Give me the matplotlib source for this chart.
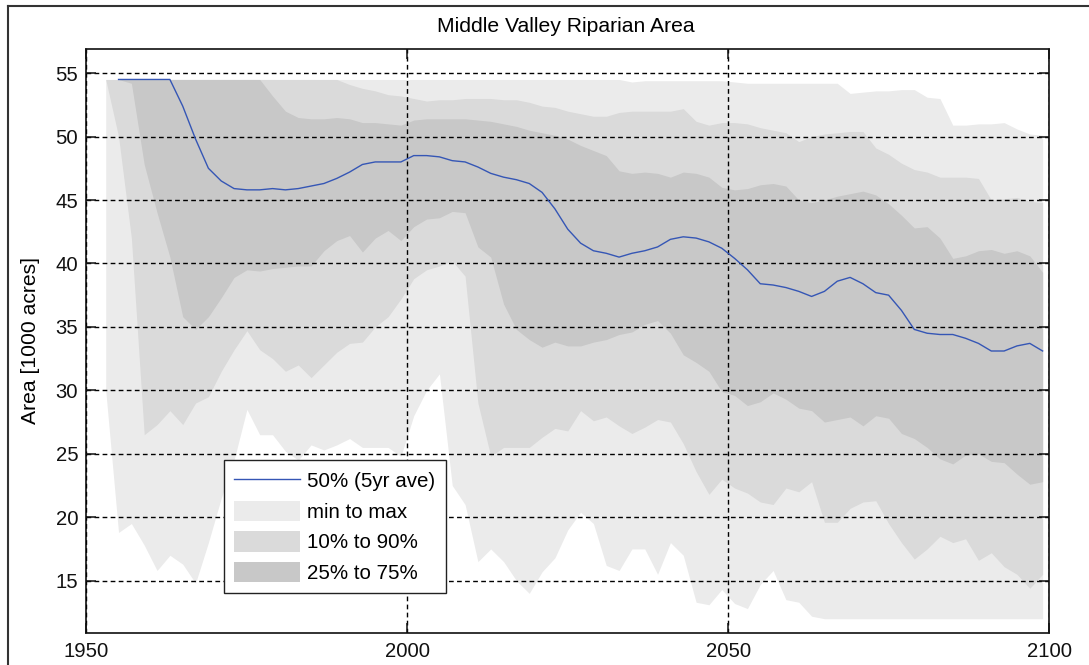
import matplotlib
matplotlib.use('Agg')
import matplotlib.pyplot as plt
from matplotlib.lines import Line2D
from matplotlib.patches import Patch
import numpy as np

# ── data (2-year steps) ─────────────────────────────────────
years = [1953, 1955, 1957, 1959, 1961, 1963, 1965, 1967, 1969, 1971,
         1973, 1975, 1977, 1979, 1981, 1983, 1985, 1987, 1989, 1991,
         1993, 1995, 1997, 1999, 2001, 2003, 2005, 2007, 2009, 2011,
         2013, 2015, 2017, 2019, 2021, 2023, 2025, 2027, 2029, 2031,
         2033, 2035, 2037, 2039, 2041, 2043, 2045, 2047, 2049, 2051,
         2053, 2055, 2057, 2059, 2061, 2063, 2065, 2067, 2069, 2071,
         2073, 2075, 2077, 2079, 2081, 2083, 2085, 2087, 2089, 2091,
         2093, 2095, 2097, 2099]

area_max = [54.5, 54.5, 54.5, 54.5, 54.5, 54.5, 54.5, 54.5, 54.5, 54.5,
            54.5, 54.5, 54.5, 54.5, 54.5, 54.5, 54.5, 54.5, 54.5, 54.5,
            54.5, 54.5, 54.5, 54.5, 54.5, 54.5, 54.5, 54.5, 54.5, 54.5,
            54.5, 54.5, 54.5, 54.5, 54.5, 54.5, 54.5, 54.5, 54.5, 54.5,
            54.5, 54.3, 54.4, 54.4, 54.4, 54.4, 54.4, 54.4, 54.4, 54.3,
            54.2, 54.2, 54.2, 54.2, 54.2, 54.2, 54.2, 54.2, 53.4, 53.5,
            53.6, 53.6, 53.7, 53.7, 53.1, 53.0, 50.9, 50.9, 51.0, 51.0,
            51.1, 50.6, 50.2, 50.1]

p90 = [54.5, 54.5, 54.5, 54.5, 54.5, 54.5, 54.5, 54.5, 54.5, 54.5,
       54.5, 54.5, 54.5, 54.5, 54.5, 54.5, 54.5, 54.5, 54.5, 54.1,
       53.8, 53.6, 53.3, 53.2, 53.0, 52.8, 52.9, 52.9, 53.0, 53.0,
       53.0, 52.9, 52.9, 52.7, 52.4, 52.3, 52.0, 51.8, 51.6, 51.6,
       51.9, 52.0, 52.0, 52.0, 52.0, 52.2, 51.2, 50.9, 51.1, 51.1,
       51.0, 50.7, 50.5, 50.3, 49.6, 50.0, 50.2, 50.3, 50.4, 50.4,
       49.1, 48.6, 47.9, 47.4, 47.2, 46.8, 46.8, 46.8, 46.7, 45.0,
       45.1, 45.2, 44.9, 44.8]

p75 = [54.5, 54.5, 54.5, 54.5, 54.5, 54.5, 54.5, 54.5, 54.5, 54.5,
       54.5, 54.5, 54.5, 53.2, 52.0, 51.5, 51.4, 51.4, 51.5, 51.4,
       51.1, 51.1, 51.0, 50.9, 51.3, 51.4, 51.4, 51.4, 51.4, 51.3,
       51.2, 51.0, 50.8, 50.5, 50.3, 50.1, 49.8, 49.3, 48.9, 48.5,
       47.3, 47.1, 47.2, 47.1, 46.8, 47.2, 47.1, 46.8, 46.0, 45.8,
       45.9, 46.2, 46.3, 46.1, 45.0, 44.8, 45.0, 45.3, 45.5, 45.7,
       45.4, 44.7, 43.8, 42.8, 42.9, 42.0, 40.4, 40.6, 41.0, 41.1,
       40.8, 41.0, 40.6, 39.3]

median_5yr = [np.nan, 54.5, 54.5, 54.5, 54.5, 54.5, 52.4, 49.8, 47.5, 46.5,
              45.9, 45.8, 45.8, 45.9, 45.8, 45.9, 46.1, 46.3, 46.7, 47.2,
              47.8, 48.0, 48.0, 48.0, 48.5, 48.5, 48.4, 48.1, 48.0, 47.6,
              47.1, 46.8, 46.6, 46.3, 45.6, 44.3, 42.7, 41.6, 41.0, 40.8,
              40.5, 40.8, 41.0, 41.3, 41.9, 42.1, 42.0, 41.7, 41.2, 40.4,
              39.5, 38.4, 38.3, 38.1, 37.8, 37.4, 37.8, 38.6, 38.9, 38.4,
              37.7, 37.5, 36.3, 34.8, 34.5, 34.4, 34.4, 34.1, 33.7, 33.1,
              33.1, 33.5, 33.7, 33.1]

p25 = [54.5, 54.5, 54.2, 47.8, 44.0, 40.5, 35.8, 34.8, 35.8, 37.3,
       38.9, 39.5, 39.4, 39.6, 39.7, 39.8, 39.8, 41.0, 41.8, 42.2,
       40.9, 42.0, 42.6, 41.8, 42.9, 43.5, 43.6, 44.1, 44.0, 41.3,
       40.5, 36.8, 34.8, 34.0, 33.4, 33.8, 33.5, 33.5, 33.8, 34.0,
       34.4, 34.6, 35.2, 35.5, 34.5, 32.8, 32.2, 31.5, 29.9, 29.6,
       28.8, 29.1, 29.8, 29.3, 28.6, 28.4, 27.5, 27.7, 27.9, 27.2,
       28.0, 27.8, 26.6, 26.2, 25.5, 24.6, 24.2, 24.9, 25.0, 24.4,
       24.3, 23.4, 22.6, 22.8]

p10 = [54.5, 50.0, 42.0, 26.5, 27.3, 28.4, 27.3, 29.0, 29.5, 31.5,
       33.2, 34.7, 33.2, 32.5, 31.5, 32.0, 31.0, 32.0, 33.0, 33.7,
       33.8, 35.0, 35.8, 37.2, 38.8, 39.5, 39.8, 40.2, 39.0, 29.0,
       24.8, 25.5, 25.5, 25.5, 26.3, 27.0, 26.8, 28.4, 27.6, 27.9,
       27.2, 26.6, 27.1, 27.7, 27.5, 25.8, 23.6, 21.8, 23.0, 22.3,
       21.9, 21.2, 21.0, 22.3, 22.0, 22.8, 19.6, 19.6, 20.7, 21.2,
       21.3, 19.5, 18.0, 16.7, 17.5, 18.5, 18.0, 18.3, 16.6, 17.2,
       16.1, 15.5, 14.4, 15.5]

area_min = [30.0, 18.8, 19.5, 17.8, 15.8, 17.0, 16.3, 14.8, 18.0, 21.5,
            24.5, 28.5, 26.5, 26.5, 25.2, 24.5, 25.7, 25.3, 25.7, 26.2,
            25.5, 25.5, 25.5, 24.8, 28.0, 30.0, 31.3, 22.5, 21.0, 16.5,
            17.5, 16.5, 15.0, 14.0, 15.7, 16.8, 19.0, 20.4, 19.5, 16.2,
            15.8, 17.5, 17.5, 15.5, 18.0, 17.0, 13.3, 13.1, 14.3, 13.2,
            12.8, 14.7, 15.8, 13.5, 13.3, 12.2, 12.0, 12.0, 12.0, 12.0,
            12.0, 12.0, 12.0, 12.0, 12.0, 12.0, 12.0, 12.0, 12.0, 12.0,
            12.0, 12.0, 12.0, 12.0]

labels = ["50% (5yr ave)", "min to max", "10% to 90%", "25% to 75%"]
x_ticks = [1950, 2000, 2050, 2100]
y_ticks = [15, 20, 25, 30, 35, 40, 45, 50, 55]

C_MINMAX = "#ebebeb"
C_1090   = "#dadada"
C_2575   = "#c8c8c8"
C_MED    = "#3556b5"
FONT     = "Liberation Sans"
FS       = 14.6

plt.rcParams['font.family'] = [FONT, 'DejaVu Sans']

fig = plt.figure(figsize=(10.89, 6.65), dpi=100)
fig.patch.set_facecolor("white")
AX_POS = [0.0794, 0.0486, 0.8839, 0.8777]
ax = fig.add_axes(AX_POS)

ax.fill_between(years, area_min, area_max, color=C_MINMAX, lw=0, zorder=1)
ax.fill_between(years, p10, p90, color=C_1090, lw=0, zorder=1.1)
ax.fill_between(years, p25, p75, color=C_2575, lw=0, zorder=1.2)
ax.plot(years, median_5yr, color=C_MED, lw=1.0, zorder=3)

ax.set_xlim(1950, 2100)
ax.set_ylim(10.9, 56.9)
ax.set_xticks(x_ticks)
ax.set_yticks(y_ticks)

# matlab look: inward ticks all round, dashed grid drawn over the bands
ax.set_axisbelow(False)
ax.grid(True, color="black", linestyle=(0, (3.4, 2.4)), linewidth=1.0)
ax.tick_params(direction="in", length=7.5, width=1.1, top=True, right=True,
               labelsize=FS, colors="#111111")
ax.tick_params(axis="y", pad=6)
ax.tick_params(axis="x", pad=7)
for sp in ax.spines.values():
    sp.set_linewidth(1.3)
    sp.set_color("#222222")

fig.text(31 / 1089, AX_POS[1] + AX_POS[3] / 2, "Area [1000 acres]",
         rotation=90, ha="center", va="center", fontsize=15.2)
fig.text(566 / 1089, 1 - 31.7 / 665, "Middle Valley Riparian Area",
         ha="center", va="baseline", fontsize=15.2)

handles = [Line2D([], [], color=C_MED, lw=1.0),
           Patch(facecolor=C_MINMAX, edgecolor="none"),
           Patch(facecolor=C_1090, edgecolor="none"),
           Patch(facecolor=C_2575, edgecolor="none")]
leg = ax.legend(handles, labels, loc="lower left",
                bbox_to_anchor=(0.1429, 0.068), borderaxespad=0,
                fontsize=14.8, fancybox=False, framealpha=1,
                handlelength=3.2, handleheight=1.15, labelspacing=0.45,
                borderpad=0.5, handletextpad=0.35)
leg.get_frame().set_edgecolor("#222222")
leg.get_frame().set_linewidth(1.0)
leg.set_zorder(5)

# panel frame (left and top edges of the surrounding box)
fig.add_artist(Line2D([7.5 / 1089, 7.5 / 1089], [0, 1 - 5.7 / 665],
                      transform=fig.transFigure, color="#333333", lw=1.5))
fig.add_artist(Line2D([7.5 / 1089, 1], [1 - 5.7 / 665, 1 - 5.7 / 665],
                      transform=fig.transFigure, color="#333333", lw=1.5))

fig.savefig("out.png", dpi=100, facecolor="white")
